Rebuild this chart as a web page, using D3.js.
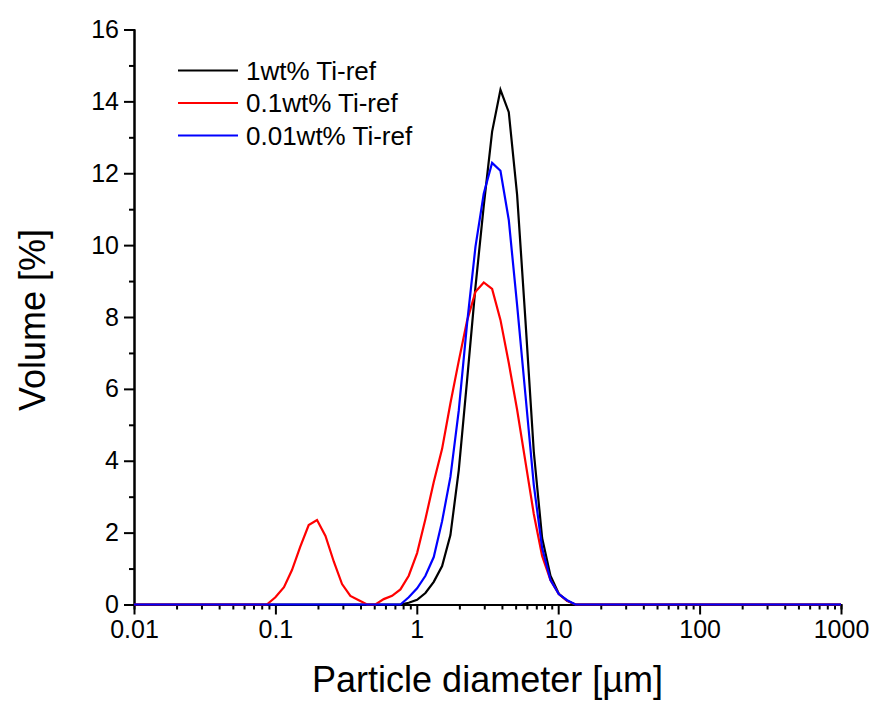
<!DOCTYPE html>
<html>
<head>
<meta charset="utf-8">
<script src="https://cdn.jsdelivr.net/npm/d3@7"></script>
<style>
  html, body { margin: 0; background: #fff; overflow: hidden; }
  #chart { display: block; }
  svg text { font-family: "Liberation Sans", Arial, sans-serif; fill: #000; }
</style>
</head>
<body>
<svg id="chart"></svg>
<script>
// particle size classes (um), with the axis ends at 0.01 and 1000
const sizes = [0.01, 0.087, 0.100, 0.115, 0.131, 0.150, 0.172, 0.197, 0.226, 0.259, 0.296,
  0.339, 0.389, 0.445, 0.510, 0.584, 0.669, 0.766, 0.877, 1.005, 1.151, 1.318, 1.510,
  1.729, 1.981, 2.269, 2.599, 2.976, 3.409, 3.905, 4.472, 5.122, 5.867, 6.720, 7.697,
  8.816, 10.097, 11.565, 13.246, 15.172, 1000];

const vol1 = [0, 0, 0, 0, 0, 0, 0, 0, 0, 0, 0, 0, 0, 0, 0, 0, 0, 0,
  0.05, 0.13, 0.32, 0.63, 1.07, 1.93, 3.74, 6.25, 8.83, 11.1, 13.16, 14.32, 13.7, 11.4,
  7.9, 4.25, 1.85, 0.8, 0.3, 0.1, 0, 0, 0];
const vol01 = [0, 0, 0.2, 0.48, 0.96, 1.61, 2.21, 2.35, 1.91, 1.19, 0.57, 0.24, 0.12, 0, 0,
  0.15, 0.24, 0.42, 0.8, 1.43, 2.38, 3.41, 4.33, 5.6, 6.78, 7.9, 8.7, 8.96, 8.78, 7.92,
  6.72, 5.42, 3.97, 2.52, 1.35, 0.68, 0.29, 0.1, 0, 0, 0];
const vol001 = [0, 0, 0, 0, 0, 0, 0, 0, 0, 0, 0, 0, 0, 0, 0, 0, 0, 0,
  0.2, 0.45, 0.8, 1.32, 2.32, 3.55, 5.4, 7.83, 9.95, 11.44, 12.29, 12.07, 10.7, 8.33,
  5.83, 3.33, 1.57, 0.68, 0.29, 0.12, 0, 0, 0];

const seriesNames = ["1wt% Ti-ref", "0.1wt% Ti-ref", "0.01wt% Ti-ref"];
const seriesColors = ["#000000", "#ff0000", "#0000ff"];
const seriesValues = [vol1, vol01, vol001];

const xMajor = [0.01, 0.1, 1, 10, 100, 1000];
const xLabels = ["0.01", "0.1", "1", "10", "100", "1000"];
const yMajor = [0, 2, 4, 6, 8, 10, 12, 14, 16];
const yMinor = [1, 3, 5, 7, 9, 11, 13, 15];

const width = 875, height = 706;
const margin = { top: 29.5, right: 34, bottom: 101.5, left: 134 };
const innerWidth = width - margin.left - margin.right;
const innerHeight = height - margin.top - margin.bottom;

const svg = d3.select("#chart").attr("width", width).attr("height", height);
const g = svg.append("g").attr("transform", `translate(${margin.left}, ${margin.top})`);

const xScale = d3.scaleLog().domain([0.01, 1000]).range([0, innerWidth]);
const yScale = d3.scaleLinear().domain([0, 16]).range([innerHeight, 0]);

// minor x ticks: 2..9 in every decade
const xMinor = [];
xMajor.slice(0, -1).forEach(d => { for (let k = 2; k <= 9; k++) xMinor.push(d * k); });

const styleAxis = sel => {
  sel.select(".domain").attr("stroke", "#000").attr("stroke-width", 2);
  sel.selectAll(".tick line").attr("stroke", "#000").attr("stroke-width", 2);
  sel.selectAll(".tick text").attr("font-size", "25px").attr("fill", "#000");
};

g.append("g").attr("class", "x-minor")
  .attr("transform", `translate(0, ${innerHeight})`)
  .call(d3.axisBottom(xScale).tickValues(xMinor).tickSize(5).tickFormat(""))
  .call(styleAxis)
  .selectAll(".tick text").remove();
g.append("g").attr("class", "y-minor")
  .call(d3.axisLeft(yScale).tickValues(yMinor).tickSize(5).tickFormat(""))
  .call(styleAxis)
  .selectAll(".tick text").remove();

g.append("g").attr("class", "x-axis")
  .attr("transform", `translate(0, ${innerHeight})`)
  .call(d3.axisBottom(xScale).tickValues(xMajor).tickSize(10).tickSizeOuter(0)
    .tickFormat((d, i) => xLabels[i]).tickPadding(6))
  .call(styleAxis);
g.append("g").attr("class", "y-axis")
  .call(d3.axisLeft(yScale).tickValues(yMajor).tickSize(10).tickSizeOuter(0).tickPadding(5))
  .call(styleAxis);

// curves
const line = d3.line().x(d => xScale(d[0])).y(d => yScale(d[1]));
seriesValues.forEach((vals, i) => {
  g.append("path")
    .datum(sizes.map((s, j) => [s, vals[j]]))
    .attr("fill", "none")
    .attr("stroke", seriesColors[i])
    .attr("stroke-width", 2.2)
    .attr("d", line);
});

// legend
const legend = g.append("g").attr("transform", "translate(44, 41)");
seriesNames.forEach((name, i) => {
  const row = legend.append("g").attr("transform", `translate(0, ${i * 32.5})`);
  row.append("line").attr("x1", 0).attr("x2", 60).attr("y1", 0).attr("y2", 0)
    .attr("stroke", seriesColors[i]).attr("stroke-width", 2.2);
  row.append("text").text(name).attr("x", 68).attr("y", 9).attr("font-size", "26px");
});

// axis titles
svg.append("text").text("Particle diameter [\u00b5m]")
  .attr("x", margin.left + innerWidth / 2).attr("y", 692)
  .attr("text-anchor", "middle").attr("font-size", "36px");
svg.append("text").text("Volume [%]")
  .attr("transform", `translate(45, 320) rotate(-90)`)
  .attr("text-anchor", "middle").attr("font-size", "36px");
</script>
</body>
</html>
